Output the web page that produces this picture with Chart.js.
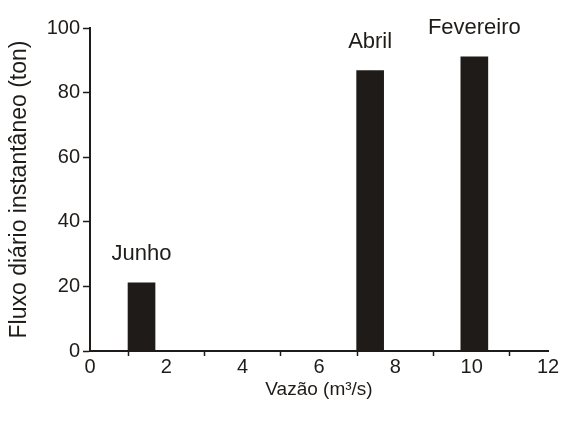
<!DOCTYPE html>
<html>
<head>
<meta charset="utf-8">
<script src="https://cdn.jsdelivr.net/npm/chart.js@4"></script>
<style>
  html, body { margin: 0; padding: 0; background: #fff; }
  #wrap { width: 564px; height: 429px; }
</style>
</head>
<body>
<div id="wrap"><canvas id="c" width="564" height="429"></canvas></div>
<script>
const monthLabels = ['Junho', 'Abril', 'Fevereiro'];
const vazaoValues = [1.35, 7.34, 10.07];
const fluxValues = [21.1, 86.8, 91.1];
const markerValues = [19.8, 86.1, 89.9];
const xTicks = [0, 2, 4, 6, 8, 10, 12];
const yTicks = [0, 20, 40, 60, 80, 100];

const ink = '#1f1b18';
const fontFamily = '"Liberation Sans", Arial, sans-serif';

const labelPlugin = {
  id: 'monthLabels',
  afterDatasetsDraw(chart) {
    const meta = chart.getDatasetMeta(0);
    const ctx = chart.ctx;
    ctx.save();
    ctx.fillStyle = ink;
    ctx.font = '22px ' + fontFamily;
    ctx.textAlign = 'center';
    ctx.textBaseline = 'middle';
    meta.data.forEach((el, i) => {
      ctx.fillText(monthLabels[i], el.x, el.y - 29);
    });
    ctx.restore();
  }
};

new Chart(document.getElementById('c'), {
  type: 'bar',
  data: {
    datasets: [
      {
        type: 'bar',
        data: vazaoValues.map((x, i) => ({ x: x, y: fluxValues[i] })),
        backgroundColor: ink,
        borderWidth: 0,
        barThickness: 27
      },
      {
        type: 'scatter',
        data: vazaoValues.map((x, i) => ({ x: x, y: markerValues[i] })),
        pointStyle: 'rectRot',
        pointRadius: 2.5,
        backgroundColor: '#0d0b0a',
        borderColor: '#0d0b0a',
        borderWidth: 0
      }
    ]
  },
  options: {
    responsive: false,
    animation: false,
    layout: { padding: { left: 0, right: 16, top: 28, bottom: 0 } },
    plugins: { legend: { display: false }, tooltip: { enabled: false } },
    scales: {
      x: {
        type: 'linear',
        min: 0,
        max: 12,
        offset: false,
        afterFit(scale) { scale.height = 78; },
        afterBuildTicks(scale) { scale.ticks = xTicks.map(v => ({ value: v })); },
        grid: { drawOnChartArea: false, drawTicks: true, tickLength: 5, color: ink, tickWidth: 1.5 },
        border: { display: true, color: ink, width: 2 },
        ticks: { color: ink, font: { family: fontFamily, size: 20 }, padding: -1, maxRotation: 0 },
        title: {
          display: true,
          text: 'Vazão (m³/s)',
          color: ink,
          font: { family: fontFamily, size: 19 },
          padding: { top: 0, bottom: 28 }
        }
      },
      y: {
        type: 'linear',
        min: 0,
        max: 100,
        afterFit(scale) { scale.width = 90; },
        afterBuildTicks(scale) { scale.ticks = yTicks.map(v => ({ value: v })); },
        grid: { drawOnChartArea: false, drawTicks: true, tickLength: 7, color: ink, tickWidth: 1.5 },
        border: { display: true, color: ink, width: 2 },
        ticks: { color: ink, font: { family: fontFamily, size: 20 }, padding: 3 },
        title: {
          display: true,
          text: 'Fluxo diário instantâneo (ton)',
          color: ink,
          font: { family: fontFamily, size: 23 },
          padding: { top: 6, bottom: 0 }
        }
      }
    }
  },
  plugins: [labelPlugin]
});
</script>
</body>
</html>
